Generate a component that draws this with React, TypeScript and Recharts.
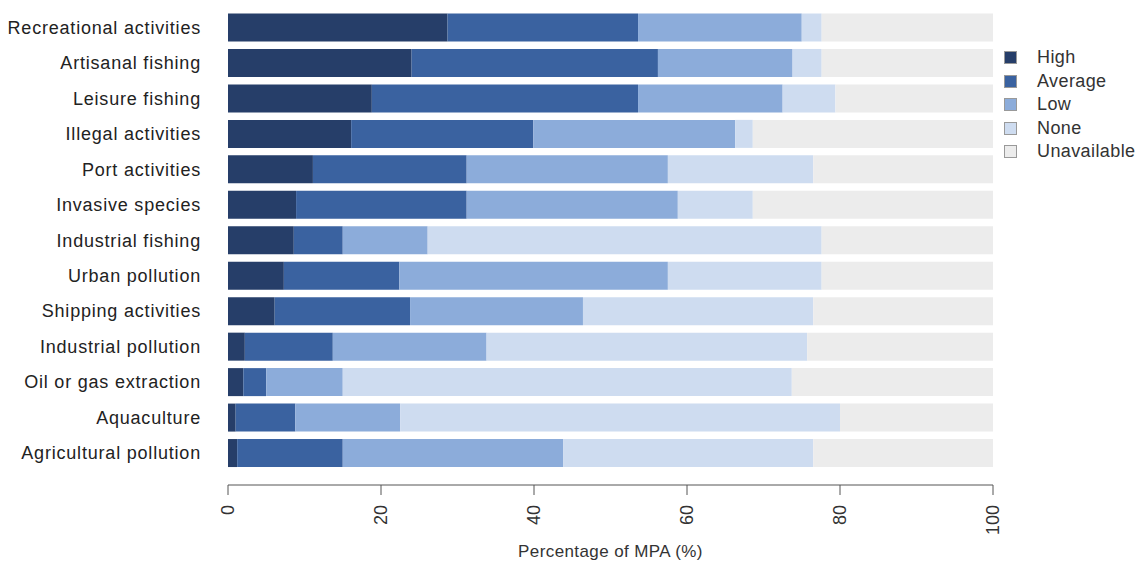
import { Bar, BarChart, Label, XAxis, YAxis } from "recharts"

const categories = [
  "Recreational activities",
  "Artisanal fishing",
  "Leisure fishing",
  "Illegal activities",
  "Port activities",
  "Invasive species",
  "Industrial fishing",
  "Urban pollution",
  "Shipping activities",
  "Industrial pollution",
  "Oil or gas extraction",
  "Aquaculture",
  "Agricultural pollution",
]

const high = [28.7, 24.0, 18.8, 16.1, 11.1, 8.9, 8.6, 7.3, 6.1, 2.2, 2.0, 1.0, 1.2]
const average = [24.9, 32.2, 34.8, 23.8, 20.1, 22.3, 6.4, 15.1, 17.7, 11.5, 3.0, 7.8, 13.8]
const low = [21.4, 17.6, 18.9, 26.4, 26.3, 27.6, 11.1, 35.1, 22.6, 20.1, 10.0, 13.7, 28.8]
const none = [2.6, 3.8, 6.9, 2.3, 19.0, 9.8, 51.5, 20.1, 30.1, 41.9, 58.7, 57.5, 32.7]
const unavailable = [22.4, 22.4, 20.6, 31.4, 23.5, 31.4, 22.4, 22.4, 23.5, 24.3, 26.3, 20.0, 23.5]

const xTicks = [0, 20, 40, 60, 80, 100]

const series = [
  { key: "High", values: high, color: "#263e69" },
  { key: "Average", values: average, color: "#3a62a0" },
  { key: "Low", values: low, color: "#8cacda" },
  { key: "None", values: none, color: "#cedcf0" },
  { key: "Unavailable", values: unavailable, color: "#ececec" },
]

const data = categories.map((name, i) => {
  const row: Record<string, number | string> = { name }
  series.forEach((s) => {
    row[s.key] = s.values[i]
  })
  return row
})

const font = "'Liberation Sans', Arial, sans-serif"

const CategoryTick = (props: any) => {
  const { y, payload } = props
  return (
    <text
      x={201}
      y={y}
      textAnchor="end"
      dominantBaseline="central"
      fontSize={18}
      fill="#222"
      fontFamily={font}
      letterSpacing={0.8}
    >
      {payload.value}
    </text>
  )
}

const ValueTick = (props: any) => {
  const { x, y, payload } = props
  const ty = y + 8
  return (
    <text
      x={x}
      y={ty}
      transform={`rotate(-90 ${x} ${ty})`}
      textAnchor="end"
      dominantBaseline="central"
      fontSize={18}
      fill="#333"
      fontFamily={font}
    >
      {payload.value}
    </text>
  )
}

export default function App() {
  return (
    <div style={{ position: "absolute", left: 0, top: 0, width: 1146, height: 561, background: "#fff" }}>
      <BarChart
        width={1146}
        height={561}
        data={data}
        layout="vertical"
        margin={{ top: 10, right: 153, bottom: 0, left: 0 }}
        barCategoryGap={3.5}
      >
        <XAxis
          type="number"
          domain={[0, 100]}
          ticks={xTicks}
          height={76}
          stroke="#555"
          tickSize={10}
          tick={<ValueTick />}
        >
          <Label
            value="Percentage of MPA (%)"
            position="insideBottom"
            offset={4}
            fontSize={17}
            fill="#333"
            fontFamily={font}
            letterSpacing={0.4}
          />
        </XAxis>
        <YAxis
          type="category"
          dataKey="name"
          width={228}
          axisLine={false}
          tickLine={false}
          interval={0}
          padding={{ top: 0, bottom: 14 }}
          tick={<CategoryTick />}
        />
        {series.map((s) => (
          <Bar key={s.key} dataKey={s.key} stackId="a" fill={s.color} isAnimationActive={false} />
        ))}
      </BarChart>
      <div style={{ position: "absolute", left: 1004, top: 46, fontFamily: font, fontSize: 18, color: "#333" }}>
        {series.map((s) => (
          <div key={s.key} style={{ display: "flex", alignItems: "center", height: 23.5 }}>
            <span
              style={{
                display: "inline-block",
                width: 13,
                height: 13,
                background: s.color,
                border: "1px solid #999",
                marginRight: 20,
                boxSizing: "border-box",
              }}
            />
            <span style={{ letterSpacing: 0.4 }}>{s.key}</span>
          </div>
        ))}
      </div>
    </div>
  )
}
